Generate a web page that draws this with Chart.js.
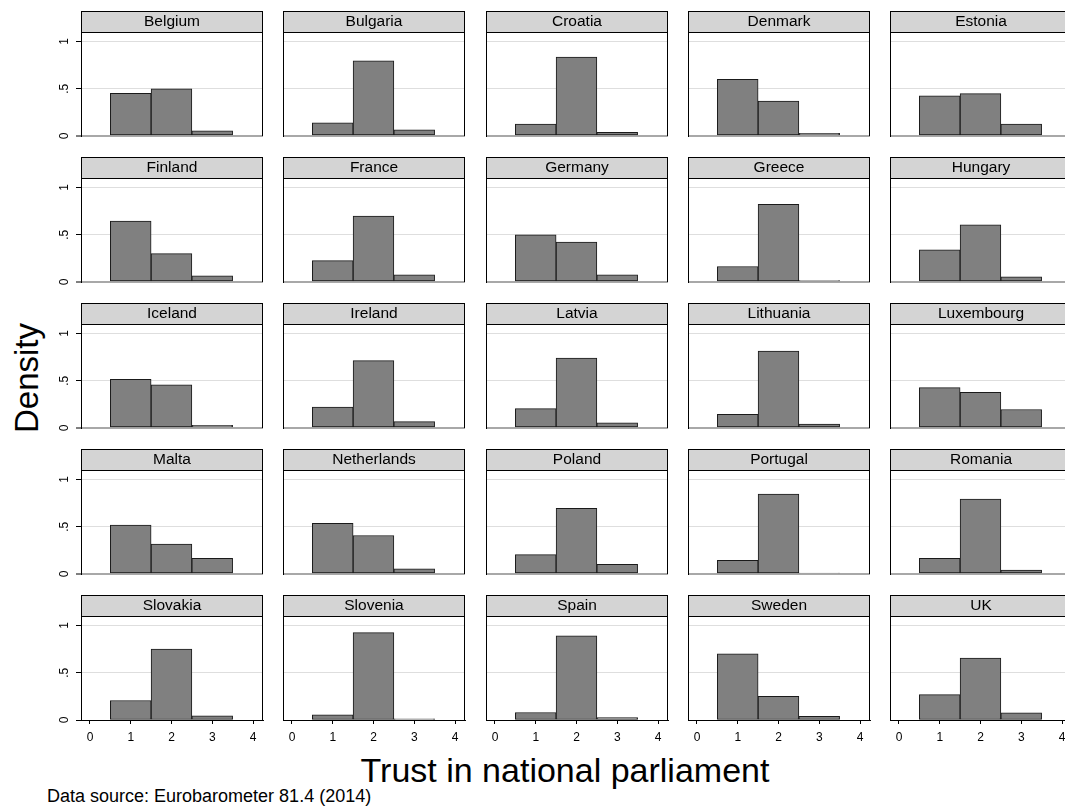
<!DOCTYPE html>
<html>
<head>
<meta charset="utf-8">
<title>Trust in national parliament</title>
<script src="https://cdn.jsdelivr.net/npm/chart.js@4.4.1/dist/chart.umd.min.js"></script>
<style>
  html, body { margin: 0; padding: 0; background: #fff; overflow: hidden; }
  #fig { position: relative; width: 1065px; height: 807px; overflow: hidden; background: #fff;
         font-family: "Liberation Sans", Arial, Helvetica, sans-serif; color: #000; }
  #fig canvas { position: absolute; }
  .lbl { position: absolute; white-space: nowrap; line-height: 1; }
</style>
</head>
<body>
<div id="fig">
  <div class="lbl" id="ytitle" style="left:26px; top:378px; font-size:33px; transform:translate(-50%,-50%) rotate(-90deg);">Density</div>
  <div class="lbl" id="xtitle" style="left:565px; top:753px; font-size:34px; transform:translateX(-50%);">Trust in national parliament</div>
  <div class="lbl" id="note" style="left:47px; top:787px; font-size:18px;">Data source: Eurobarometer 81.4 (2014)</div>
</div>
<script>
// Countries, in panel order (five per row)
const countries = [
  'Belgium', 'Bulgaria', 'Croatia', 'Denmark', 'Estonia',
  'Finland', 'France', 'Germany', 'Greece', 'Hungary',
  'Iceland', 'Ireland', 'Latvia', 'Lithuania', 'Luxembourg',
  'Malta', 'Netherlands', 'Poland', 'Portugal', 'Romania',
  'Slovakia', 'Slovenia', 'Spain', 'Sweden', 'UK'
];

// Response categories of the trust item
const trustLevels = [1, 2, 3];

// Histogram densities per country for each response category
const densityLevel1 = [
  0.450, 0.140, 0.127, 0.600, 0.424,
  0.645, 0.226, 0.500, 0.164, 0.340,
  0.514, 0.220, 0.205, 0.145, 0.427,
  0.517, 0.537, 0.205, 0.144, 0.166,
  0.206, 0.055, 0.079, 0.700, 0.268
];
const densityLevel2 = [
  0.498, 0.795, 0.835, 0.370, 0.449,
  0.300, 0.697, 0.423, 0.822, 0.604,
  0.457, 0.713, 0.740, 0.813, 0.377,
  0.316, 0.407, 0.694, 0.845, 0.792,
  0.751, 0.925, 0.890, 0.250, 0.655
];
const densityLevel3 = [
  0.055, 0.065, 0.040, 0.028, 0.127,
  0.064, 0.077, 0.076, 0.016, 0.056,
  0.029, 0.067, 0.055, 0.042, 0.196,
  0.167, 0.056, 0.101, 0.011, 0.042,
  0.043, 0.012, 0.025, 0.040, 0.077
];

// Axis ticks
const xTickValues = [0, 1, 2, 3, 4];
const yTickValues = [0, 0.5, 1];
const yTickLabels = ['0', '.5', '1'];

const FONT = '"Liberation Sans", Arial, Helvetica, sans-serif';
const NCOLS = 5, NROWS = 5;
const PLOT_W = 182, PLOT_H = 104, HEAD_H = 21;
const AXIS_W = 40, AXIS_H = 35, PAD_R = 2;

// Grey strip behind each panel's country name, plus the right edge of the panel
const panelFrame = {
  id: 'panelFrame',
  beforeDraw(chart) {
    const { ctx, chartArea: a } = chart;
    ctx.save();
    ctx.fillStyle = '#d4d4d4';
    ctx.fillRect(a.left, a.top - HEAD_H, a.right - a.left, HEAD_H);
    ctx.strokeStyle = '#000';
    ctx.lineWidth = 1;
    ctx.strokeRect(a.left + 0.5, a.top - HEAD_H + 0.5, a.right - a.left - 1, HEAD_H);
    ctx.restore();
  },
  afterDraw(chart) {
    const { ctx, chartArea: a } = chart;
    ctx.save();
    ctx.strokeStyle = '#000';
    ctx.lineWidth = 1;
    ctx.beginPath();
    ctx.moveTo(a.right - 0.5, a.top);
    ctx.lineTo(a.right - 0.5, a.bottom);
    ctx.stroke();
    ctx.restore();
  }
};

const fig = document.getElementById('fig');

countries.forEach((name, i) => {
  const row = Math.floor(i / NCOLS);
  const col = i % NCOLS;
  const firstCol = col === 0;
  const lastRow = row === NROWS - 1;

  const plotLeft = Math.round(81 + 202.3 * col);
  const plotTop = Math.round(32.3 + 145.9 * row);

  const canvas = document.createElement('canvas');
  const cw = AXIS_W + PLOT_W + PAD_R;
  const ch = HEAD_H + PLOT_H + AXIS_H;
  canvas.width = cw;
  canvas.height = ch;
  canvas.style.width = cw + 'px';
  canvas.style.height = ch + 'px';
  canvas.style.left = (plotLeft - AXIS_W) + 'px';
  canvas.style.top = (plotTop - HEAD_H) + 'px';
  fig.appendChild(canvas);

  new Chart(canvas, {
    type: 'bar',
    data: {
      datasets: [{
        label: name,
        data: trustLevels.map((lv, k) => ({
          x: lv,
          y: [densityLevel1, densityLevel2, densityLevel3][k][i]
        })),
        backgroundColor: '#808080',
        borderColor: '#1a1a1a',
        borderWidth: 1,
        borderSkipped: false,
        barPercentage: 1,
        categoryPercentage: 1
      }]
    },
    options: {
      responsive: false,
      animation: false,
      devicePixelRatio: 1,
      layout: { padding: { left: 0, right: PAD_R, top: 0, bottom: 0 } },
      plugins: {
        legend: { display: false },
        tooltip: { enabled: false },
        title: {
          display: true,
          text: name,
          fullSize: false,
          color: '#000',
          font: { family: FONT, size: 15.5, weight: 'normal', lineHeight: '19px' },
          padding: { top: 1, bottom: 1 }
        }
      },
      scales: {
        x: {
          type: 'linear',
          min: -0.22,
          max: 4.245,
          offset: false,
          afterBuildTicks: s => { s.ticks = xTickValues.map(v => ({ value: v })); },
          afterFit: s => { s.height = AXIS_H; },
          grid: {
            display: lastRow,
            offset: false,
            drawOnChartArea: false,
            drawTicks: lastRow,
            tickLength: 4,
            tickColor: '#000',
            tickWidth: 1
          },
          border: { display: lastRow, color: '#000', width: 1 },
          ticks: {
            display: lastRow,
            color: '#000',
            font: { family: FONT, size: 12 },
            padding: 6,
            maxRotation: 0,
            autoSkip: false,
            callback: v => String(v)
          }
        },
        y: {
          type: 'linear',
          min: 0,
          max: 1.1,
          afterBuildTicks: s => { s.ticks = yTickValues.map(v => ({ value: v })); },
          afterFit: s => { s.width = AXIS_W; },
          grid: {
            color: c => c.tick.value === 0 ? (lastRow ? '#000' : '#a8a8a8') : '#dedede',
            lineWidth: c => c.tick.value === 0 ? (lastRow ? 1 : 2) : 1,
            drawTicks: firstCol,
            tickLength: 5,
            tickColor: '#000',
            tickWidth: 1
          },
          border: { display: true, color: '#000', width: 1 },
          ticks: {
            display: firstCol,
            color: '#000',
            font: { family: FONT, size: 12 },
            minRotation: 90,
            maxRotation: 90,
            crossAlign: 'center',
            padding: 6,
            autoSkip: false,
            callback: v => yTickLabels[yTickValues.indexOf(v)]
          }
        }
      }
    },
    plugins: [panelFrame]
  });
});
</script>
</body>
</html>
